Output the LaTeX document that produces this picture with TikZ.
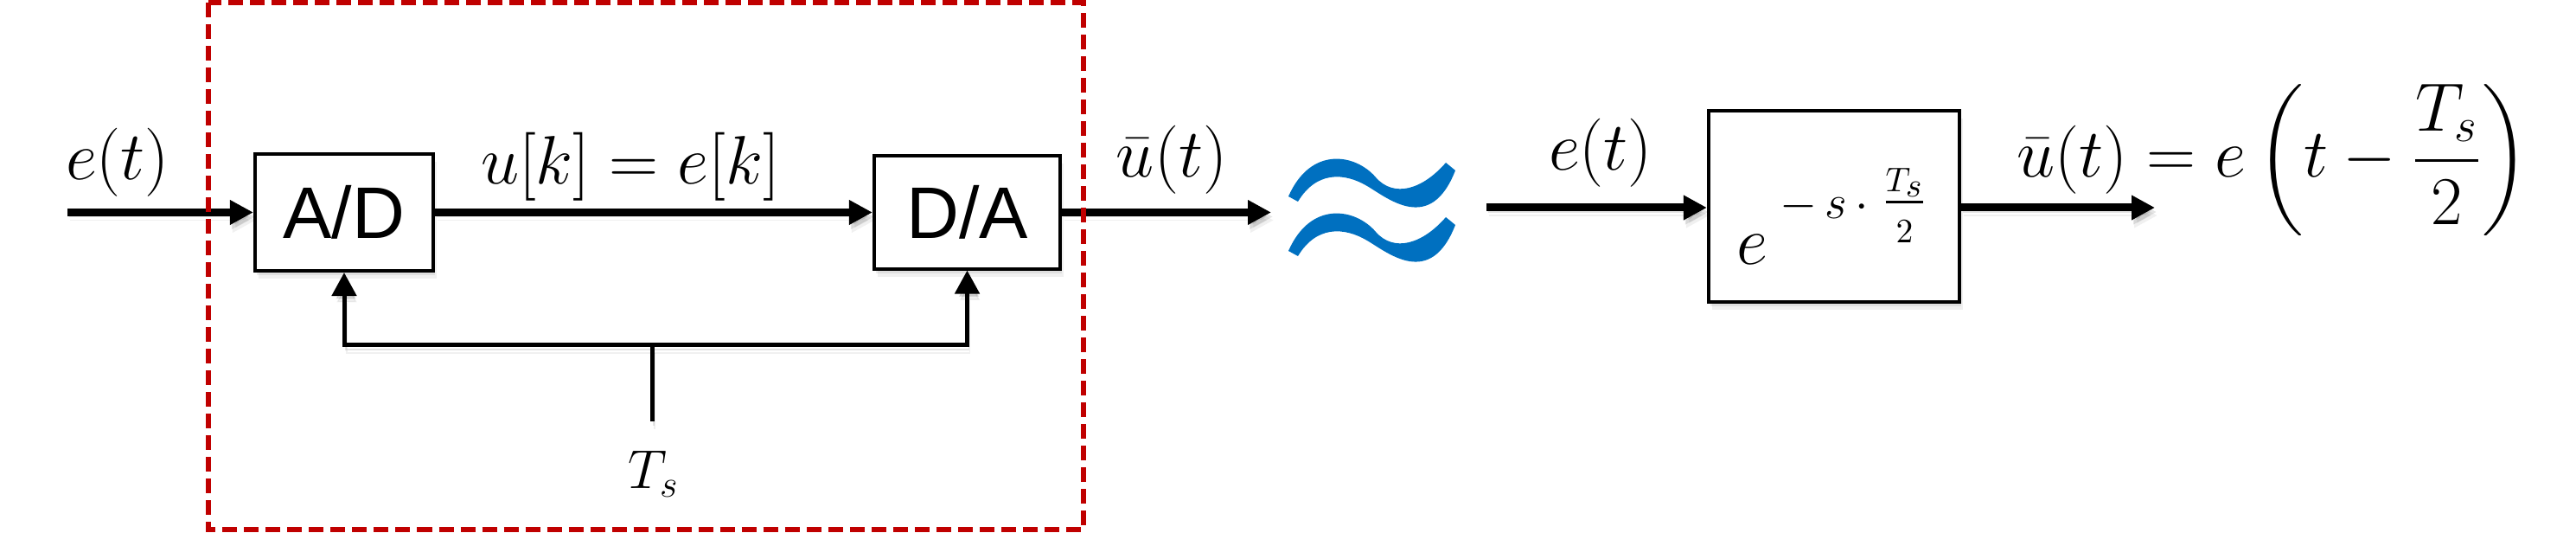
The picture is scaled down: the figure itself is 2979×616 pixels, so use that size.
\RequirePackage{fix-cm}
\documentclass[tikz,border=0pt]{standalone}
\usepackage{amsmath}
\usepackage{fontspec}
\setsansfont{Liberation Sans}
\usetikzlibrary{arrows.meta}
\definecolor{dashred}{RGB}{192,0,0}
\definecolor{approxblue}{RGB}{0,112,192}
\tikzset{
  boxshadow/.style={
    preaction={fill=black, opacity=0.07, transform canvas={shift={(0.02cm,-0.05cm)}}},
    preaction={fill=black, opacity=0.06, transform canvas={shift={(0.04cm,-0.09cm)}}}},
  lineshadow/.style={
    preaction={draw=black, opacity=0.10, transform canvas={shift={(0.02cm,-0.05cm)}}},
    preaction={draw=black, opacity=0.06, transform canvas={shift={(0.03cm,-0.09cm)}}}},
  blk/.style={draw=black, line width=0.04cm, fill=white, inner sep=0pt, boxshadow,
    font=\sffamily\fontsize{24}{28}\selectfont},
  sig/.style={line width=0.09cm, lineshadow, -{Triangle[length=0.27cm,width=0.27cm]}},
  clk/.style={line width=0.05cm, lineshadow},
  clkarrow/.style={line width=0.05cm, lineshadow, -{Triangle[length=0.27cm,width=0.28cm]}},
  lbl/.style={inner sep=0pt, font=\fontsize{22.5}{26}\selectfont},
  frame/.style={draw=dashred, line width=0.06cm, dash pattern=on 0.17cm off 0.08cm},
  approxwave/.pic={
    \fill[approxblue] (1490,227) .. controls (1516,168) and (1568,178) .. (1591,205)
      .. controls (1612,229) and (1645,219) .. (1672,188) -- (1683,197)
      .. controls (1654,271) and (1605,229) .. (1581,215)
      .. controls (1554,199) and (1522,198) .. (1501,233) -- cycle;
  },
}
\begin{document}
\begin{tikzpicture}[x=0.01cm, y=-0.01cm]
\useasboundingbox (0,0) rectangle (2979,616);

% left part: sampling chain
\coordinate (in1) at (78,245.5);
\coordinate (out1) at (1470,245.5);
\coordinate (j) at (754,399);
\coordinate (tsend) at (754,487);
\node[blk, minimum width=2.06cm, minimum height=1.35cm] (AD) at (398,245.5) {A/D};
\node[blk, minimum width=2.15cm, minimum height=1.30cm] (DA) at (1118.5,245.5) {D/A};
\draw[sig] (in1) -- (AD.west);
\draw[sig] (AD.east) -- (DA.west);
\draw[sig] (DA.east) -- (out1);

\draw[clk] (tsend) -- (j);
\draw[clkarrow] (j) -| (AD.south);
\draw[clkarrow] (j) -| (DA.south);

\node[lbl, anchor=base] (et1) at (136,208) {$e(t)$};
\node[lbl, anchor=base] (uk) at (729,213) {$u[k]=e[k]$};
\node[lbl, anchor=base] (ub1) at (1355,205) {$\bar{u}(t)$};
\node[inner sep=0pt, font=\fontsize{18}{22}\selectfont, anchor=base] (ts) at (756,565) {$T_s$};

\draw[frame] (241,3) rectangle (1253,612);

% approximately-equal sign
\pic at (0,0) {approxwave};
\pic at (0,63) {approxwave};

% right part: delay model
\coordinate (in2) at (1719,240);
\coordinate (out2) at (2492,240);
\node[blk, minimum width=2.90cm, minimum height=2.21cm] (delay) at (2121,238.5) {};
\draw[sig] (in2) -- (in2 -| delay.west);
\draw[sig] (out2 -| delay.east) -- (out2);

\node[lbl, anchor=base] (et2) at (1851,197) {$e(t)$};
\node[lbl, anchor=base west] (expr) at (2008,306)
  {$e$\hspace{0.14cm}\raisebox{0.53cm}{$\scriptstyle -\,s\,\cdot\;\genfrac{}{}{}{1}{\scriptscriptstyle T_s}{\scriptscriptstyle 2}$}};
\node[lbl, anchor=base] (res) at (2628,205) {$\bar{u}(t)=e\,\biggl(t-\dfrac{T_s}{2}\biggr)$};
\end{tikzpicture}
\end{document}
